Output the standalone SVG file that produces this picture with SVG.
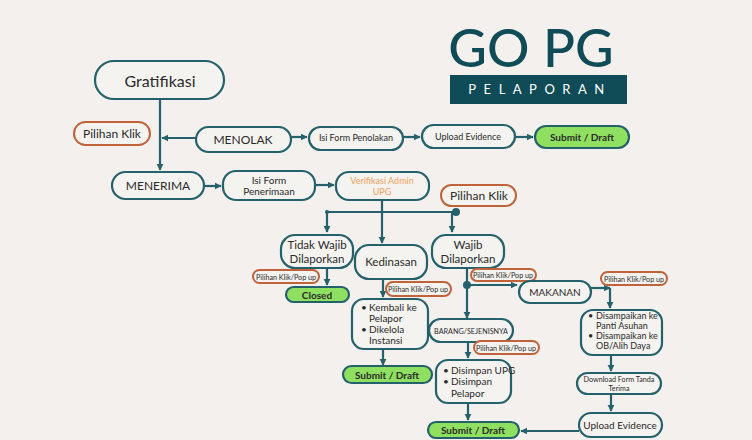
<svg xmlns="http://www.w3.org/2000/svg" width="752" height="440" viewBox="0 0 752 440">
<defs>
<marker id="ah" viewBox="0 0 10 10" refX="9" refY="5" markerWidth="3.2" markerHeight="3.2" orient="auto" markerUnits="strokeWidth">
<path d="M0,0 L10,5 L0,10 z" fill="#24616b"/>
</marker>
<style>
.n{fill:#f5f3f0;stroke:#24616b;stroke-width:2.2}
.o{fill:#f5f3f0;stroke:#c0623a;stroke-width:2}
.g{fill:#8fe060;stroke:#24616b;stroke-width:2.2}
.c{fill:none;stroke:#24616b;stroke-width:2.2}
.ca{fill:none;stroke:#24616b;stroke-width:2.2;marker-end:url(#ah)}
text{font-family:Lato,"Open Sans","Liberation Sans",sans-serif;fill:#2a2a2a;text-anchor:middle}
.t12{font-size:12px}
.t11{font-size:11.5px}
.t10{font-size:10px}
.t9{font-size:9px}
.t8{font-size:7.2px}
.b{font-weight:bold}
.l{text-anchor:start}
</style>
</defs>
<rect width="752" height="440" fill="#f3f0ed"/>

<g id="title">
<text x="531" y="67" style="font-size:53px;fill:#0f4c57;font-weight:500">GO PG</text>
<rect x="450" y="75" width="177" height="29" fill="#0f4c57"/>
<text x="540" y="94" style="font-size:13px;fill:#ffffff;letter-spacing:7.5px">PELAPORAN</text>
</g>

<g id="connectors">
<path class="ca" d="M160,99 V170"/>
<path class="ca" d="M196,138 H162"/>
<path class="ca" d="M291,137 H307"/>
<path class="ca" d="M403,137 H420"/>
<path class="ca" d="M515,137 H533"/>
<path class="ca" d="M204,186 H221"/>
<path class="ca" d="M315,185 H334"/>
<path class="c" d="M456,212 H327"/>
<path class="ca" d="M327,212 V232"/>
<path class="ca" d="M382,200 V243"/>
<path class="ca" d="M452,212 V232"/>
<circle cx="456" cy="212" r="4" fill="#24616b"/>
<circle cx="327" cy="212" r="2" fill="#24616b"/>
<path class="ca" d="M327,268 V285"/>
<path class="ca" d="M383,279 V297"/>
<path class="ca" d="M383,349 V365"/>
<path class="c" d="M467,268 V285"/>
<circle cx="467" cy="285" r="4" fill="#24616b"/>
<path class="ca" d="M467,285 H517"/>
<path class="ca" d="M467,285 V318"/>
<path class="ca" d="M591,288 H610"/>
<path class="ca" d="M610,288 V308"/>
<path class="ca" d="M468,342 V358"/>
<path class="ca" d="M468,403 V420"/>
<path class="ca" d="M611,355 V371"/>
<path class="ca" d="M611,394 V411"/>
<path class="ca" d="M579,431 H521"/>
</g>

<g id="gratifikasi">
<rect class="n" x="95" y="61" width="129" height="38" rx="19"/>
<text x="160" y="87" style="font-size:16px">Gratifikasi</text>
</g>
<g id="pilihan-klik-1">
<rect class="o" x="74" y="122" width="76" height="23" rx="11.5"/>
<text class="t12" x="112" y="138">Pilihan Klik</text>
</g>
<g id="menolak">
<rect class="n" x="196" y="127" width="95" height="25" rx="12.5"/>
<text class="t12" x="243" y="144">MENOLAK</text>
</g>
<g id="isi-form-penolakan">
<rect class="n" x="309" y="127" width="94" height="23" rx="11.5"/>
<text class="t9" x="356" y="141">Isi Form Penolakan</text>
</g>
<g id="upload-evidence-1">
<rect class="n" x="422" y="125" width="93" height="23" rx="11.5"/>
<text class="t9" x="468" y="140">Upload Evidence</text>
</g>
<g id="submit-1">
<rect class="g" x="535" y="126" width="94" height="22" rx="11"/>
<text class="t10 b" x="582" y="141">Submit / Draft</text>
</g>

<g id="menerima">
<rect class="n" x="112" y="172" width="92" height="27" rx="13.5"/>
<text class="t12" x="158" y="190">MENERIMA</text>
</g>
<g id="isi-form-penerimaan">
<rect class="n" x="223" y="171" width="92" height="29" rx="13"/>
<text class="t10" x="269" y="184">Isi Form</text>
<text class="t10" x="269" y="195">Penerimaan</text>
</g>
<g id="verifikasi">
<rect class="n" x="336" y="172" width="93" height="28" rx="13"/>
<text class="t9" x="382" y="184" style="fill:#f0a060">Verifikasi Admin</text>
<text class="t9" x="382" y="195" style="fill:#f0a060">UPG</text>
</g>
<g id="pilihan-klik-2">
<rect class="o" x="441" y="185" width="75" height="21" rx="10.5"/>
<text class="t12" x="479" y="200">Pilihan Klik</text>
</g>

<g id="tidak-wajib">
<rect class="n" x="281" y="235" width="72" height="33" rx="14"/>
<text class="t11" x="317" y="249">Tidak Wajib</text>
<text class="t11" x="317" y="263">Dilaporkan</text>
</g>
<g id="kedinasan">
<rect class="n" x="355" y="245" width="72" height="34" rx="14"/>
<text class="t11" x="391" y="266">Kedinasan</text>
</g>
<g id="wajib">
<rect class="n" x="432" y="235" width="72" height="33" rx="14"/>
<text class="t11" x="468" y="249">Wajib</text>
<text class="t11" x="468" y="263">Dilaporkan</text>
</g>

<g id="popup-1">
<rect class="o" x="253" y="270" width="66" height="13" rx="6.5"/>
<text class="t8" x="286" y="279.5">Pilihan Klik/Pop up</text>
</g>
<g id="closed">
<rect class="g" x="286" y="287" width="63" height="15" rx="7.5"/>
<text class="t10 b" x="317" y="298.5">Closed</text>
</g>
<g id="popup-2">
<rect class="o" x="386" y="282" width="65" height="14" rx="7"/>
<text class="t8" x="418" y="292">Pilihan Klik/Pop up</text>
</g>
<g id="kembali">
<rect class="n" x="352" y="299" width="76" height="50" rx="12"/>
<text class="t10 l" x="361" y="311">•</text>
<text class="t10 l" x="369" y="311">Kembali ke</text>
<text class="t10 l" x="369" y="322">Pelapor</text>
<text class="t10 l" x="361" y="333">•</text>
<text class="t10 l" x="369" y="333">Dikelola</text>
<text class="t10 l" x="369" y="344">Instansi</text>
</g>
<g id="submit-2">
<rect class="g" x="343" y="366" width="89" height="17" rx="8.5"/>
<text class="t10 b" x="387" y="378.5">Submit / Draft</text>
</g>

<g id="popup-3">
<rect class="o" x="471" y="269" width="65" height="12" rx="6"/>
<text class="t8" x="503" y="278">Pilihan Klik/Pop up</text>
</g>
<g id="makanan">
<rect class="n" x="519" y="281" width="72" height="22" rx="11"/>
<text class="t10" x="555" y="296">MAKANAN</text>
</g>
<g id="popup-4">
<rect class="o" x="601" y="272" width="66" height="13" rx="6.5"/>
<text class="t8" x="634" y="281.5">Pilihan Klik/Pop up</text>
</g>
<g id="barang">
<rect class="n" x="429" y="319" width="84" height="23" rx="11.5"/>
<text class="t8" x="471" y="333.5">BARANG/SEJENISNYA</text>
</g>
<g id="popup-5">
<rect class="o" x="474" y="341" width="65" height="13" rx="6.5"/>
<text class="t8" x="506" y="350.5">Pilihan Klik/Pop up</text>
</g>
<g id="disimpan">
<rect class="n" x="436" y="360" width="75" height="43" rx="12"/>
<text class="t10 l" x="443" y="374">•</text>
<text class="t10 l" x="451" y="374">Disimpan UPG</text>
<text class="t10 l" x="443" y="385">•</text>
<text class="t10 l" x="451" y="385">Disimpan</text>
<text class="t10 l" x="451" y="397">Pelapor</text>
</g>
<g id="submit-3">
<rect class="g" x="428" y="422" width="91" height="16" rx="8"/>
<text class="t10 b" x="473" y="434">Submit / Draft</text>
</g>

<g id="disampaikan">
<rect class="n" x="581" y="310" width="81" height="45" rx="12"/>
<text class="t9 l" x="588" y="319">•</text>
<text class="t9 l" x="596" y="319">Disampaikan ke</text>
<text class="t9 l" x="596" y="329">Panti Asuhan</text>
<text class="t9 l" x="588" y="339">•</text>
<text class="t9 l" x="596" y="339">Disampaikan ke</text>
<text class="t9 l" x="596" y="349">OB/Alih Daya</text>
</g>
<g id="download">
<rect class="n" x="577" y="373" width="84" height="21" rx="10.5"/>
<text class="t8" x="619" y="382">Download Form Tanda</text>
<text class="t8" x="619" y="391">Terima</text>
</g>
<g id="upload-evidence-2">
<rect class="n" x="579" y="413" width="83" height="24" rx="12"/>
<text class="t10" x="620" y="429">Upload Evidence</text>
</g>
</svg>
